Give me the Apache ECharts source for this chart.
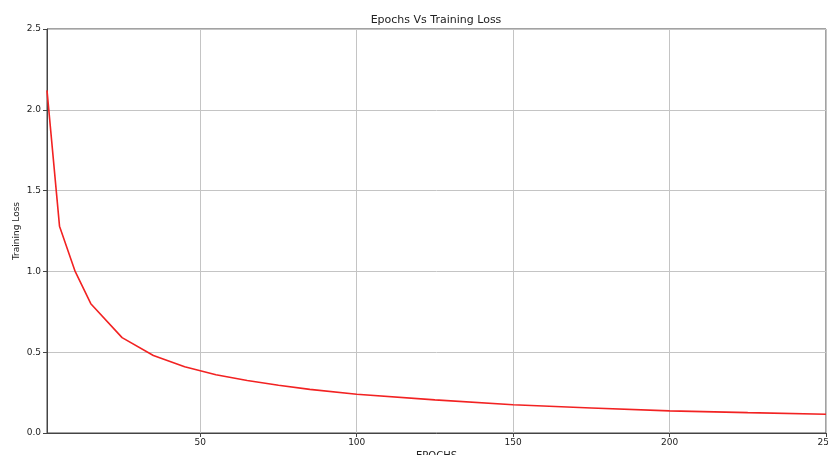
<!DOCTYPE html>
<html>
<head>
<meta charset="utf-8">
<script src="https://cdn.jsdelivr.net/npm/echarts@6/dist/echarts.min.js"></script>
<style>
html,body{margin:0;padding:0;background:#fff;}
#c{width:828px;height:455px;}
</style>
</head>
<body>
<div id="c"></div>
<script>
const epochs = [1, 5, 10, 15, 25, 35, 45, 55, 65, 75, 85, 100, 125, 150, 175, 200, 225, 250];
const trainingLoss = [2.12, 1.28, 1.00, 0.80, 0.59, 0.48, 0.41, 0.36, 0.325, 0.295, 0.27, 0.24, 0.205, 0.175, 0.155, 0.137, 0.126, 0.116];
const xTicks = [50, 100, 150, 200, 250];

const chart = echarts.init(document.getElementById('c'), null, {renderer: 'canvas'});
const font = 'DejaVu Sans';
chart.setOption({
  animation: false,
  title: {
    text: 'Epochs Vs Training Loss',
    left: 431, top: 10, textAlign: 'center',
    textStyle: {fontFamily: font, fontSize: 11, fontWeight: 'normal', color: '#222'}
  },
  grid: {left: 47, top: 29, right: 2, bottom: 22, containLabel: false, outerBoundsMode: 'none',
    show: true, borderColor: '#444', borderWidth: 1, backgroundColor: 'transparent'},
  xAxis: {
    type: 'value', min: 1, max: 250,
    name: 'EPOCHS', nameLocation: 'middle', nameGap: 18, nameMoveOverlap: false,
    nameTextStyle: {fontFamily: font, fontSize: 10, color: '#222', verticalAlign: 'top'},
    axisLine: {show: true, lineStyle: {color: '#444', width: 1}},
    axisTick: {show: true, length: 4, lineStyle: {color: '#444'}, customValues: xTicks},
    axisLabel: {fontFamily: font, fontSize: 9, color: '#222', margin: 5, customValues: xTicks, hideOverlap: false},
    splitLine: {show: true, lineStyle: {color: '#c4c4c4', width: 1}}
  },
  yAxis: {
    type: 'value', min: 0, max: 2.5, interval: 0.5,
    name: 'Training Loss', nameLocation: 'middle', nameGap: 30, nameRotate: 90, nameMoveOverlap: false,
    nameTextStyle: {fontFamily: font, fontSize: 9, color: '#222', verticalAlign: 'middle', align: 'center'},
    axisLine: {show: true, lineStyle: {color: '#444', width: 1}},
    axisTick: {show: true, length: 4, lineStyle: {color: '#444'}},
    axisLabel: {fontFamily: font, fontSize: 9, color: '#222', margin: 6, formatter: v => v.toFixed(1)},
    splitLine: {show: true, lineStyle: {color: '#c4c4c4', width: 1}}
  },
  series: [{
    type: 'line',
    data: epochs.map((e, i) => [e, trainingLoss[i]]),
    showSymbol: false,
    lineStyle: {color: '#f22222', width: 1.6},
    itemStyle: {color: '#f22222'}
  }]
});
</script>
</body>
</html>
